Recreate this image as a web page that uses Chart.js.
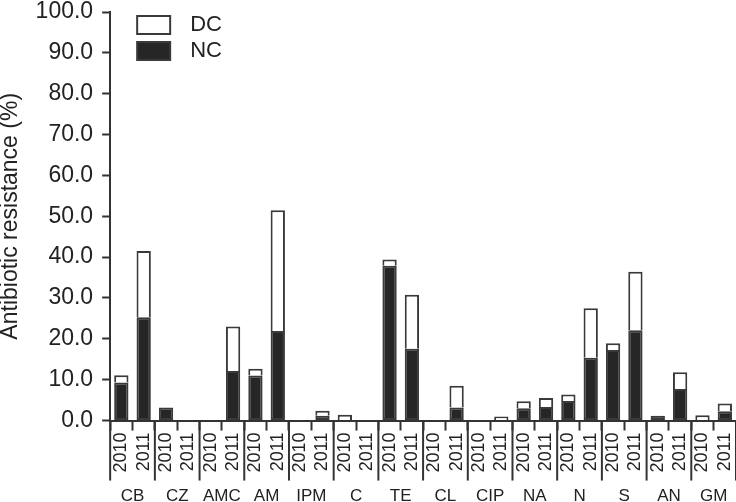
<!DOCTYPE html>
<html lang="en">
<head>
<meta charset="UTF-8">
<title>Antibiotic resistance</title>
<script src="https://cdn.jsdelivr.net/npm/chart.js"></script>
<style>
  body { margin: 0; background: #fff; }
  #wrap { width: 736px; height: 502px; }
</style>
</head>
<body>
<div id="wrap"><canvas id="resChart"></canvas></div>
<script>
const groups = ['CB', 'CZ', 'AMC', 'AM', 'IPM', 'C', 'TE', 'CL', 'CIP', 'NA', 'N', 'S', 'AN', 'GM'];
const years = ['2010', '2011'];
// NC (black, bottom) and DC (white, stacked on top), one value per bar: group x year
const ncValues = [9.3, 25.3, 3.2, 0, 0, 12.1, 11.0, 21.9, 0, 1.2, 0, 0, 37.9, 17.6,
                  0, 3.2, 0, 0, 3.0, 3.3, 4.8, 15.4, 17.3, 22.1, 1.2, 7.7, 0, 2.3];
const dcValues = [1.8, 16.2, 0, 0, 0, 10.9, 1.7, 29.6, 0, 1.2, 1.4, 0, 1.5, 13.2,
                  0, 5.3, 0, 1.0, 1.7, 2.2, 1.6, 12.1, 1.6, 14.3, 0, 4.1, 1.3, 1.9];
const yTicks = [0, 10, 20, 30, 40, 50, 60, 70, 80, 90, 100];

const barLabels = groups.flatMap(() => years);

Chart.defaults.font.family = '"Liberation Sans", Arial, sans-serif';
Chart.defaults.color = '#222';

// long separators between antibiotic groups, below the axis
const groupLines = {
    id: 'groupLines',
    afterDraw(chart) {
        const xs = chart.scales.x, area = chart.chartArea, ctx = chart.ctx;
        const half = (xs.getPixelForValue(1) - xs.getPixelForValue(0)) / 2;
        ctx.save();
        ctx.strokeStyle = '#333';
        ctx.lineWidth = 2;
        for (let g = 0; g <= groups.length; g++) {
            const px = g < groups.length ? xs.getPixelForValue(g * 2) - half
                                         : xs.getPixelForValue(g * 2 - 1) + half;
            ctx.beginPath();
            ctx.moveTo(px, area.bottom);
            ctx.lineTo(px, area.bottom + 60);
            ctx.stroke();
        }
        ctx.restore();
    }
};

// nudge the in-plot legend to the spot used in the figure
const legendNudge = {
    id: 'legendNudge',
    afterLayout(chart) {
        chart.legend.left += 23;
        chart.legend.top += 10;
        chart.legend.right = 222;
    }
};

new Chart(document.getElementById('resChart'), {
    type: 'bar',
    data: {
        labels: barLabels,
        datasets: [{
            label: 'NC',
            data: ncValues,
            backgroundColor: '#262626',
            borderColor: '#3a3a3a',
            borderWidth: 2,
            borderSkipped: false
        }, {
            label: 'DC',
            data: dcValues,
            backgroundColor: '#ffffff',
            borderColor: '#3a3a3a',
            borderWidth: 2,
            borderSkipped: 'start'
        }]
    },
    options: {
        responsive: true,
        maintainAspectRatio: false,
        animation: false,
        layout: { padding: { top: 0, right: 0, left: -5, bottom: -9 } },
        datasets: { bar: { categoryPercentage: 1, barPercentage: 0.64 } },
        plugins: {
            tooltip: { enabled: false },
            legend: {
                position: 'chartArea',
                align: 'start',
                reverse: true,
                labels: { boxWidth: 33, boxHeight: 18, padding: 4, textAlign: 'right', font: { size: 22 }, color: '#222' }
            }
        },
        scales: {
            x: {
                stacked: true,
                offset: true,
                afterFit: s => { s.paddingLeft = 0; s.paddingRight = 0; },
                grid: { display: true, offset: true, drawOnChartArea: false, tickLength: 10, tickColor: '#333', tickWidth: 2 },
                border: { display: true, color: '#333', width: 2 },
                ticks: { minRotation: 90, maxRotation: 90, autoSkip: false, padding: 2, font: { size: 18 } }
            },
            x2: {
                type: 'category',
                labels: groups,
                position: 'bottom',
                offset: true,
                afterFit: s => { s.paddingLeft = 0; s.paddingRight = 0; },
                grid: { display: false },
                border: { display: false },
                ticks: { autoSkip: false, maxRotation: 0, padding: 4, font: { size: 17 } }
            },
            y: {
                stacked: true,
                min: 0,
                max: 100,
                afterBuildTicks: axis => { axis.ticks = yTicks.map(v => ({ value: v })); },
                afterFit: s => { s.paddingTop = 12; },
                grid: { drawOnChartArea: false, tickLength: 8, tickColor: '#333', tickWidth: 2 },
                border: { display: true, color: '#333', width: 2 },
                ticks: { padding: 9, font: { size: 23 }, callback: v => v.toFixed(1) },
                title: { display: true, text: 'Antibiotic resistance (%)', font: { size: 23 }, padding: { top: 2, bottom: 2 } }
            }
        }
    },
    plugins: [groupLines, legendNudge]
});
</script>
</body>
</html>
